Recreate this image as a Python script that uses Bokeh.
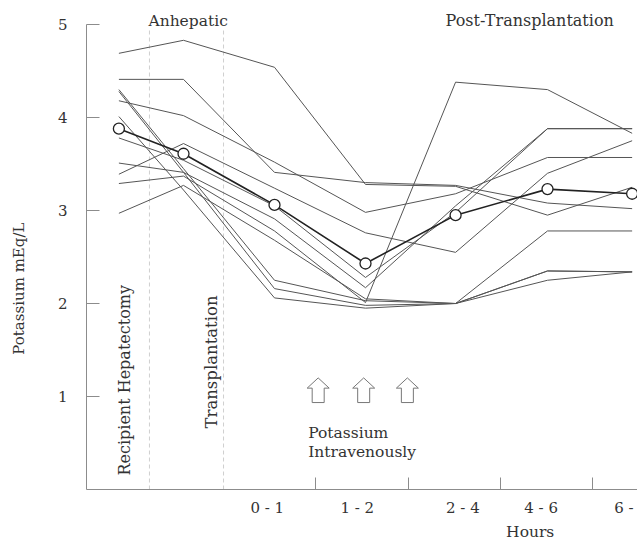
import math
from bokeh.plotting import figure
from bokeh.models import Range1d, FixedTicker, Label
from bokeh.embed import file_html
from bokeh.resources import INLINE

# ---- data -------------------------------------------------------------
# sampling positions along the time axis (one unit per interval)
time_positions = [0.29, 1.0, 2.0, 3.0, 3.99, 5.0, 5.93]

# individual patients, potassium mEq/L
patient_01 = [4.69, 4.83, 4.54, 3.28, 3.26, 2.95, 3.25]
patient_02 = [4.41, 4.41, 3.41, 3.30, 3.27, 3.08, 3.02]
patient_03 = [4.18, 4.02, 3.52, 2.98, 3.18, 3.57, 3.57]
patient_04 = [4.30, 3.45, 2.25, 2.03, 2.00, 2.35, 2.34]
patient_05 = [4.28, 3.41, 2.16, 1.98, 2.00, 2.25, 2.34]
patient_06 = [4.01, 3.22, 2.06, 1.95, 2.00, 2.78, 2.78]
patient_07 = [3.78, 3.54, 3.05, 2.28, 2.98, 3.88, 3.88]
patient_08 = [3.51, 3.41, 2.91, 2.17, 3.05, 3.88, 3.88]
patient_09 = [3.39, 3.72, 3.24, 2.76, 2.55, 3.40, 3.75]
patient_10 = [3.29, 3.37, 2.78, 2.01, 4.38, 4.30, 3.83]
patient_11 = [2.97, 3.27, 2.68, 2.05, 2.00, 2.35, 2.34]
patients = [patient_01, patient_02, patient_03, patient_04, patient_05, patient_06,
            patient_07, patient_08, patient_09, patient_10, patient_11]

mean_values = [3.88, 3.61, 3.06, 2.43, 2.95, 3.23, 3.18]

y_ticks = [1, 2, 3, 4, 5]
hour_labels = ["0 - 1", "1 - 2", "2 - 4", "4 - 6", "6 -"]
hour_label_positions = [1.92, 2.91, 4.07, 4.93, 5.84]
hour_boundaries = [2.45, 3.47, 4.48, 5.49]
phase_boundaries = [0.626, 1.44]          # hepatectomy, transplantation
potassium_doses = [2.48, 2.98, 3.46]      # arrows

# ---- styling ----------------------------------------------------------
FONT = "DejaVu Serif"
TXT = "#333333"
AX = "#8c8c8c"
FS = "15.5px"

X0 = -0.066   # where the value axis stands
p = figure(width=637, height=545, output_backend="svg", toolbar_location=None,
           x_range=Range1d(-1.011, 5.989), y_range=Range1d(-0.602, 5.258),
           min_border=0)
p.outline_line_color = None
p.xgrid.visible = False
p.ygrid.visible = False
p.background_fill_color = "white"

# y axis
yax = p.yaxis[0]
yax.fixed_location = X0
yax.ticker = FixedTicker(ticks=y_ticks)
yax.bounds = (0, 5)
yax.axis_line_color = AX
yax.major_tick_line_color = AX
yax.major_tick_in = 13
yax.major_tick_out = 0
yax.minor_tick_line_color = None
yax.major_label_standoff = 19
yax.major_label_text_font = FONT
yax.major_label_text_font_size = "15px"
yax.major_label_text_color = TXT

# x axis
xax = p.xaxis[0]
xax.fixed_location = 0
xax.bounds = (X0, 6.2)
xax.ticker = FixedTicker(ticks=hour_label_positions, minor_ticks=hour_boundaries)
xax.major_label_overrides = {pos: lab for pos, lab in zip(hour_label_positions, hour_labels)}
xax.axis_line_color = AX
xax.major_tick_line_color = None
xax.minor_tick_line_color = AX
xax.minor_tick_in = 12
xax.minor_tick_out = 0
xax.major_label_standoff = 3
xax.major_label_text_font = FONT
xax.major_label_text_font_size = "15px"
xax.major_label_text_color = TXT

# phase boundaries (dashed)
p.segment(x0=phase_boundaries, y0=[0] * len(phase_boundaries),
          x1=phase_boundaries, y1=[4.96] * len(phase_boundaries),
          line_color="#cfcfcf", line_width=1, line_dash="4 3")

# patient lines
for vals in patients:
    p.line(time_positions, vals, line_color="#555555", line_width=1)

# mean line
p.line(time_positions, mean_values, line_color="#222222", line_width=1.6)
p.scatter(time_positions, mean_values, size=11, fill_color="white",
          line_color="#222222", line_width=1.3)

# arrows (hollow up arrows)
px_x = 1 / 91.0
tip_y, base_y, bottom_y = 1.20, 1.09, 0.935
head_w, shaft_w = 11 * px_x, 6 * px_x
xs, ys = [], []
for cx in potassium_doses:
    xs.append([cx, cx + head_w, cx + shaft_w, cx + shaft_w, cx - shaft_w, cx - shaft_w, cx - head_w])
    ys.append([tip_y, base_y, base_y, bottom_y, bottom_y, base_y, base_y])
p.patches(xs, ys, fill_color="white", line_color="#777777", line_width=1)

def lab(text, x, y, angle=0.0, align="left", baseline="middle", size=FS):
    p.add_layout(Label(x=x, y=y, text=text, angle=angle, text_align=align,
                       text_baseline=baseline, text_font=FONT,
                       text_font_size=size, text_color=TXT))

lab("Anhepatic", 0.615, 5.04)
lab("Post-Transplantation", 3.88, 5.04, size="16px")
lab("Recipient Hepatectomy", 0.35, 0.15, angle=math.pi / 2, size="16px")
lab("Transplantation", 1.31, 0.656, angle=math.pi / 2, size="16.5px")
lab("Potassium", 2.37, 0.61)
lab("Intravenously", 2.37, 0.40)
lab("Hours", 4.81, -0.46, align="center")
lab("Potassium mEq/L", -0.813, 2.16, angle=math.pi / 2, align="center", size="15px")

open("out.html", "w").write(file_html(p, INLINE))
